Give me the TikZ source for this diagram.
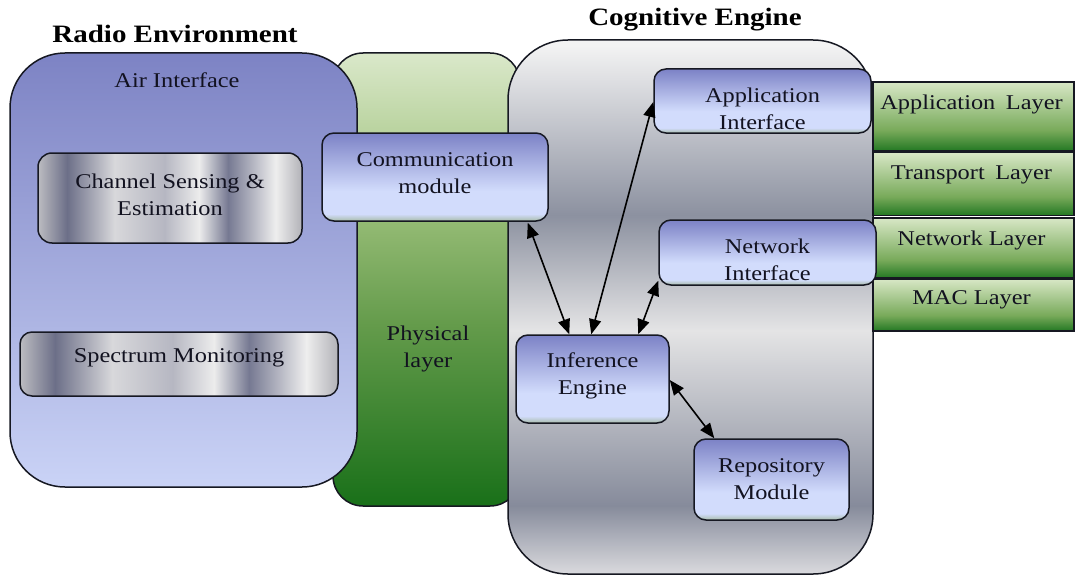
\documentclass[tikz,border=0pt]{standalone}
\usepackage{fontspec}
\setmainfont{Liberation Serif}[FakeStretch=1.16]
\usetikzlibrary{arrows.meta,calc}

\definecolor{edge}{RGB}{22,24,34}
\definecolor{txt}{RGB}{18,18,32}
% blue nodes
\definecolor{bnBot}{RGB}{168,188,170}
\definecolor{bnLight}{RGB}{210,220,252}
\definecolor{bnTop}{RGB}{124,130,198}
% radio environment
\definecolor{reTop}{RGB}{125,131,196}
\definecolor{reBot}{RGB}{202,211,246}
% physical
\definecolor{phA}{RGB}{25,112,25}
\definecolor{phB}{RGB}{100,155,75}
\definecolor{phC}{RGB}{162,196,128}
\definecolor{phD}{RGB}{218,232,202}
% cognitive gray
\definecolor{cgA}{RGB}{218,218,222}
\definecolor{cgB}{RGB}{134,139,155}
\definecolor{cgC}{RGB}{228,228,229}
\definecolor{cgD}{RGB}{140,145,160}
\definecolor{cgE}{RGB}{243,243,243}
% stack
\definecolor{stA}{RGB}{35,120,35}
\definecolor{stB}{RGB}{120,170,90}
\definecolor{stC}{RGB}{216,231,198}
% metal
\definecolor{mtA}{RGB}{188,188,193}
\definecolor{mtB}{RGB}{108,111,136}
\definecolor{mtC}{RGB}{216,216,219}
\definecolor{mtD}{RGB}{182,183,194}
\definecolor{mtE}{RGB}{236,236,236}
\definecolor{mtF}{RGB}{118,121,146}
\definecolor{mtG}{RGB}{238,238,238}
\definecolor{mtH}{RGB}{178,178,184}

\pgfdeclareverticalshading{bluenode}{100bp}{color(0bp)=(bnBot); color(25bp)=(bnBot); color(29bp)=(bnLight); color(42bp)=(bnLight); color(75bp)=(bnTop); color(100bp)=(bnTop)}
\pgfdeclareverticalshading{radioshade}{100bp}{color(0bp)=(reBot); color(25bp)=(reBot); color(75bp)=(reTop); color(100bp)=(reTop)}
\pgfdeclareverticalshading{physshade}{100bp}{color(0bp)=(phA); color(25bp)=(phA); color(45bp)=(phB); color(60bp)=(phC); color(75bp)=(phD); color(100bp)=(phD)}
\pgfdeclareverticalshading{cogshade}{100bp}{color(0bp)=(cgA); color(25bp)=(cgA); color(31.4bp)=(cgB); color(47.8bp)=(cgC); color(58.6bp)=(cgD); color(74.5bp)=(cgE); color(100bp)=(cgE)}
\pgfdeclareverticalshading{stackshade}{100bp}{color(0bp)=(stA); color(25bp)=(stA); color(40bp)=(stB); color(75bp)=(stC); color(100bp)=(stC)}
\pgfdeclarehorizontalshading{metalshade}{100bp}{color(0bp)=(mtA); color(25bp)=(mtA); color(30.5bp)=(mtB); color(39.5bp)=(mtC); color(49bp)=(mtD); color(55.5bp)=(mtE); color(61bp)=(mtF); color(70bp)=(mtG); color(75bp)=(mtH); color(100bp)=(mtH)}

\begin{document}
\begin{tikzpicture}[x=1pt,y=-1pt,
  every node/.style={text=txt, font=\fontsize{21}{27}\selectfont},
  outline/.style={draw=edge, line width=1.5pt},
  bigbox/.style={outline, rectangle},
  bluebox/.style={outline, rectangle, rounded corners=12pt, shading=bluenode, inner sep=0pt},
  metalbox/.style={outline, rectangle, rounded corners=14pt, shading=metalshade, inner sep=0pt},
  layerbox/.style={outline, rectangle, shading=stackshade, inner sep=0pt, minimum width=201pt},
  title/.style={font=\fontsize{25}{30}\selectfont\bfseries, text=black},
  label/.style={align=center, inner sep=0pt},
  dbl/.style={line width=1.6pt, draw=black, {Triangle[length=15pt,width=12pt]}-{Triangle[length=15pt,width=12pt]}}
]
\useasboundingbox (0,0) rectangle (1075,575);

% physical layer (behind)
\node[bigbox, rounded corners=30pt, shading=physshade, minimum width=187pt, minimum height=453pt] (phys) at (426.5,279.5) {};
% radio environment
\node[bigbox, rounded corners=55pt, shading=radioshade, minimum width=347pt, minimum height=434pt] (radio) at (183.5,270) {};
% cognitive engine
\node[bigbox, rounded corners=60pt, shading=cogshade, minimum width=365pt, minimum height=534pt] (cog) at (690.5,307) {};

% layer stack
\node[layerbox, minimum height=69pt] (appL) at (973.5,116.5) {};
\node[layerbox, minimum height=63pt] (trL) at (973.5,184) {};
\node[layerbox, minimum height=60pt] (netL) at (973.5,248) {};
\node[layerbox, minimum height=52pt] (macL) at (973.5,305) {};
\node[label] at ($(appL)+(-2,-12)$) {Application\,\,\,Layer};
\node[label] at ($(trL)+(-2,-9)$) {Transport\,\,\,Layer};
\node[label] at ($(netL)+(-2,-8)$) {Network Layer};
\node[label] at ($(macL)+(-2,-5)$) {MAC Layer};

% titles and labels
\node[title] (rtitle) at (175,34) {Radio Environment};
\node[title] (ctitle) at (695,20) {Cognitive Engine};
\node[label] (air) at (177,80) {Air Interface};
\node[label] (physlbl) at (428,349) {Physical\\layer};

% inner boxes
\node[metalbox, minimum width=264pt, minimum height=90pt] (chan) at (170,198) {};
\node[label] at ($(chan)+(0,-3.5)$) {Channel Sensing \&\\Estimation};
\node[metalbox, rounded corners=12pt, minimum width=318pt, minimum height=64pt] (spec) at (179,364) {};
\node[label] at ($(spec)+(0,-6)$) {Spectrum Monitoring};

\node[bluebox, minimum width=226pt, minimum height=88pt] (comm) at (435,177) {};
\node[label] at ($(comm)+(0,-3.5)$) {Communication\\module};
\node[bluebox, minimum width=217pt, minimum height=64pt] (app) at (762.5,101) {};
\node[label] at ($(app)+(0,8)$) {Application\\Interface};
\node[bluebox, minimum width=217pt, minimum height=65pt] (net) at (767.5,252.5) {};
\node[label] at ($(net)+(0,7.5)$) {Network\\Interface};
\node[bluebox, minimum width=153pt, minimum height=88pt] (inf) at (592.5,379) {};
\node[label] at ($(inf)+(0,-3.5)$) {Inference\\Engine};
\node[bluebox, minimum width=155pt, minimum height=81pt] (repo) at (771.5,479.5) {};
\node[label] at (repo) {Repository\\Module};

% connectors
\draw[dbl] ($(comm.south east)+(-21,1)$) -- ($(inf.north west)+(54,0)$);
\draw[dbl] ($(inf.north west)+(76,0)$) -- ($(app.west)+(0,1)$);
\draw[dbl] ($(inf.north west)+(123,0)$) -- ($(net.south west)+(0,-5)$);
\draw[dbl] ($(inf.east)+(0,1)$) -- ($(repo.north west)+(21,0)$);
\end{tikzpicture}
\end{document}
